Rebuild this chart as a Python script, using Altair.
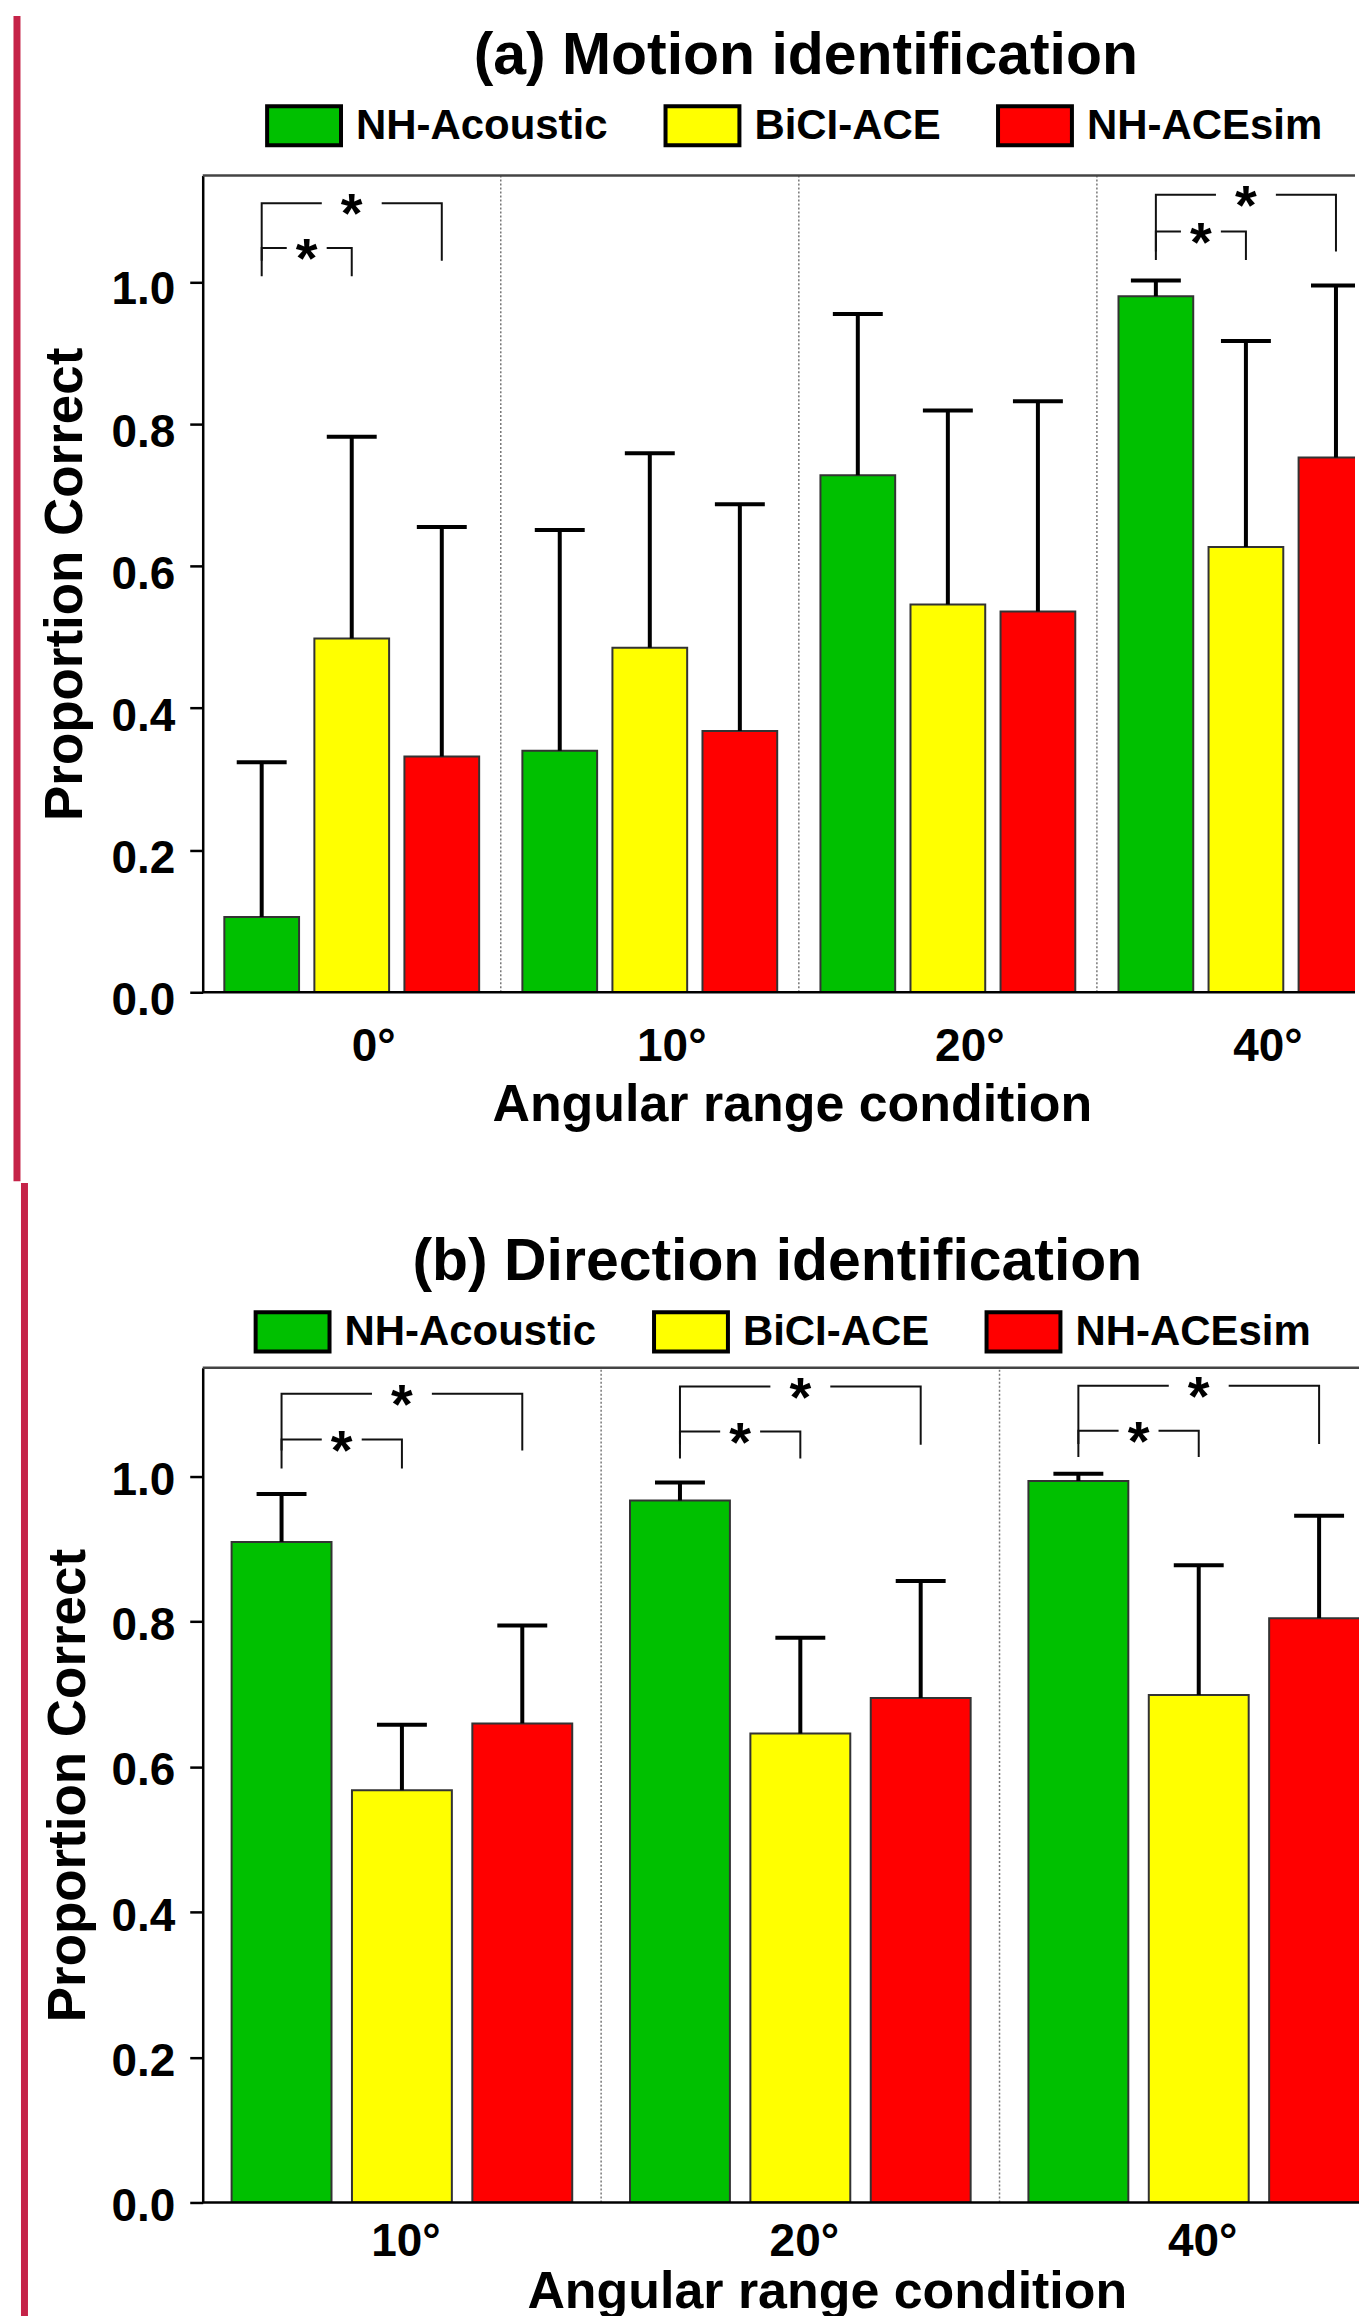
import altair as alt
import pandas as pd

FONT = "Liberation Sans"

series = ["NH-Acoustic", "BiCI-ACE", "NH-ACEsim"]
series_colors = ["#00c000", "#ffff00", "#ff0000"]

# ---------------- Panel (a) Motion identification ----------------
groups_a = ["0°", "10°", "20°", "40°"]
a_nh_mean = [0.106, 0.340, 0.728, 0.980]
a_nh_sd = [0.218, 0.311, 0.227, 0.022]
a_ci_mean = [0.498, 0.485, 0.546, 0.627]
a_ci_sd = [0.284, 0.274, 0.273, 0.290]
a_sim_mean = [0.332, 0.368, 0.536, 0.753]
a_sim_sd = [0.323, 0.319, 0.296, 0.242]

# significance brackets (a)
a_br_group = ["0°", "0°", "40°", "40°"]
a_br_from = ["NH-Acoustic", "NH-Acoustic", "NH-Acoustic", "NH-Acoustic"]
a_br_to = ["NH-ACEsim", "BiCI-ACE", "NH-ACEsim", "BiCI-ACE"]
a_br_top = [1.111, 1.048, 1.123, 1.071]
a_br_bottom = [1.030, 1.008, 1.043, 1.031]

# ---------------- Panel (b) Direction identification ----------------
groups_b = ["10°", "20°", "40°"]
b_nh_mean = [0.910, 0.967, 0.994]
b_nh_sd = [0.066, 0.025, 0.010]
b_ci_mean = [0.568, 0.646, 0.699]
b_ci_sd = [0.090, 0.132, 0.179]
b_sim_mean = [0.660, 0.695, 0.805]
b_sim_sd = [0.135, 0.161, 0.141]

b_br_group = ["10°", "10°", "20°", "20°", "40°", "40°"]
b_br_from = ["NH-Acoustic"] * 6
b_br_to = ["NH-ACEsim", "BiCI-ACE", "NH-ACEsim", "BiCI-ACE", "NH-ACEsim", "BiCI-ACE"]
b_br_top = [1.114, 1.051, 1.124, 1.062, 1.125, 1.063]
b_br_bottom = [1.036, 1.011, 1.044, 1.025, 1.045, 1.027]

y_ticks = [0.0, 0.2, 0.4, 0.6, 0.8, 1.0]
Y_MAX = 1.15
PI = 0.17   # inner padding between bars within a group
PO = 0.24   # outer padding of bars within a group

RECT_PATH = "M-1,-0.53L1,-0.53L1,0.53L-1,0.53Z"
GAP_PATH = "M-1,-0.35L1,-0.35L1,0.35L-1,0.35Z"


def bar_frame(groups, means, sds):
    rows = []
    for s, ml, sl in zip(series, means, sds):
        for g, m, sd in zip(groups, ml, sl):
            rows.append({"group": g, "series": s, "mean": m, "sd": sd})
    return pd.DataFrame(rows)


def bracket_frames(grp, frm, to, top, bottom):
    pts, stars = [], []
    for i, (g, a, b, t, bt) in enumerate(zip(grp, frm, to, top, bottom)):
        for k, (s, lv) in enumerate([(a, bt), (a, t), (b, t), (b, bt)]):
            pts.append({"bid": i, "k": k, "group": g, "series": s, "level": lv})
        stars.append({"group": g, "level": t, "span": series.index(b) - series.index(a),
                      "star": "*"})
    return pd.DataFrame(pts), pd.DataFrame(stars)


def panel(groups, means, sds, br, R, W, H, p):
    df = bar_frame(groups, means, sds)
    brdf, stardf = bracket_frames(*br)
    # band scale spans the full figure width R; the visible plot (W) crops the right side
    xs = alt.Scale(domain=groups, range=[0, R], paddingInner=0, paddingOuter=0)
    xo = alt.Scale(domain=series, paddingInner=PI, paddingOuter=PO)
    ys = alt.Scale(domain=[0, Y_MAX], nice=False, zero=True)

    x_axis = alt.Axis(
        title="Angular range condition", titleFont=FONT, titleFontSize=52,
        titleFontWeight="bold", titleColor="black", titlePadding=p["xtp"], titleX=p["xtx"],
        labelFont=FONT, labelFontSize=46, labelFontWeight="bold", labelColor="black",
        labelAngle=0, labelPadding=p["xlp"], labelOffset=p["xlo"], ticks=False, tickSize=0,
        domain=False,
    )
    y_axis = alt.Axis(
        title="Proportion Correct", titleFont=FONT, titleFontSize=53, titleFontWeight="bold",
        titleColor="black", titlePadding=p["ytp"], values=y_ticks, format=".1f",
        labelFont=FONT, labelFontSize=46, labelFontWeight="bold", labelColor="black",
        labelPadding=15, labelOffset=p["ylo"], tickSize=13, tickWidth=2.5, tickColor="black",
        domainColor="black", domainWidth=2.5, grid=False,
    )
    legend = alt.Legend(
        title=None, orient="none", legendX=p["lx"], legendY=p["ly"], direction="horizontal",
        symbolType=RECT_PATH, symbolSize=74 * 74, symbolStrokeColor="black",
        symbolStrokeWidth=4, symbolOpacity=1, labelFont=FONT, labelFontSize=42,
        labelFontWeight="bold", labelColor="black", labelOffset=13, columnPadding=49,
        padding=0, labelLimit=500,
    )
    X = alt.X("group:N", scale=xs, axis=x_axis)
    XO = alt.XOffset("series:N", scale=xo)

    def Y(field):
        return alt.Y(field, scale=ys, axis=y_axis)

    sep = alt.Chart(pd.DataFrame({"group": groups[1:]})).mark_rule(
        color="#777", strokeWidth=1.5, strokeDash=[2, 2], clip=True
    ).encode(
        x=alt.X("group:N", scale=xs, bandPosition=0, axis=x_axis),
        y=alt.YDatum(0, scale=ys, axis=y_axis),
        y2=alt.Y2Datum(Y_MAX),
    )
    bars = alt.Chart(df).mark_bar(stroke="#333", strokeWidth=2, opacity=1, clip=True).encode(
        x=X, xOffset=XO, y=Y("mean:Q"),
        color=alt.Color("series:N", scale=alt.Scale(domain=series, range=series_colors),
                        legend=legend),
    )
    err = alt.Chart(df).transform_calculate(upper="datum.mean + datum.sd")
    stems = err.mark_rule(color="black", strokeWidth=4, clip=True).encode(
        x=X, xOffset=XO, y=Y("mean:Q"), y2="upper:Q",
    )
    caps = err.mark_tick(color="black", thickness=4, size=50, opacity=1, clip=True).encode(
        x=X, xOffset=XO, y=Y("upper:Q"),
    )
    brackets = alt.Chart(brdf).mark_line(color="#111", strokeWidth=2, clip=True).encode(
        x=X, xOffset=XO, y=Y("level:Q"), detail="bid:N", order="k:Q",
    )
    frame_df = pd.DataFrame({"edge": ["top", "bottom"], "level": [Y_MAX, 0.0]})
    frame = alt.Chart(frame_df).mark_rule(strokeWidth=2.5).encode(
        y=Y("level:Q"),
        color=alt.Color("edge:N", scale=alt.Scale(domain=["top", "bottom"],
                                                  range=["#444", "black"]), legend=None),
    )
    layers = [sep, bars, stems, caps, brackets]
    for span, gap in [(1, 40), (2, 60)]:
        # star centred between the two compared bars, from the band layout
        frac = (PO + (1 - PI) / 2 + span / 2) / (3 - PI + 2 * PO)
        sub = alt.Chart(stardf).transform_filter(f"datum.span == {span}")
        enc = dict(
            x=alt.X("group:N", scale=xs, bandPosition=frac, axis=x_axis),
            y=Y("level:Q"),
        )
        layers.append(sub.mark_point(shape=GAP_PATH, filled=True, fill="white", opacity=1,
                                     strokeWidth=0, size=gap * gap, clip=True).encode(**enc))
        layers.append(sub.mark_text(font=FONT, fontSize=56, fontWeight="bold", color="black",
                                    baseline="alphabetic", align="center", dy=p["sdy"],
                                    clip=True).encode(text="star:N", **enc))
    layers.append(frame)
    # page-border strip at the left edge of the figure
    red = alt.Chart(pd.DataFrame({"k": [0]})).mark_rect(color="#c52348").encode(
        x=alt.value(p["rx"]), x2=alt.value(p["rx"] + 7),
        y=alt.value(p["ry0"]), y2=alt.value(p["ry1"]))
    layers.append(red)

    return alt.layer(*layers).resolve_scale(color="independent").properties(
        width=W, height=H,
        title=alt.TitleParams(text=p["title"], font=FONT, fontSize=59, fontWeight="bold",
                              color="black", anchor="middle", frame="group",
                              offset=p["toff"], dx=p["tdx"]),
    )


pa = panel(
    groups_a, [a_nh_mean, a_ci_mean, a_sim_mean], [a_nh_sd, a_ci_sd, a_sim_sd],
    (a_br_group, a_br_from, a_br_to, a_br_top, a_br_bottom), 1194, 1154, 818,
    dict(title="(a) Motion identification", toff=-70.5, tdx=27, lx=62.5, ly=-89,
         xlp=32, xlo=22, xtp=10, xtx=590, ytp=18, ylo=8, sdy=29,
         rx=-189.5, ry0=-159.7, ry1=1007.3),
)
pb = panel(
    groups_b, [b_nh_mean, b_ci_mean, b_sim_mean], [b_nh_sd, b_ci_sd, b_sim_sd],
    (b_br_group, b_br_from, b_br_to, b_br_top, b_br_bottom), 1197, 1161, 836,
    dict(title="(b) Direction identification", toff=-109, tdx=-5, lx=51, ly=-75,
         xlp=17, xlo=4, xtp=2, xtx=625, ytp=15, ylo=4, sdy=29,
         rx=-182, ry0=-185, ry1=951),
)

chart = alt.vconcat(pa, pb, spacing=0).resolve_scale(
    x="independent", y="independent", color="independent", xOffset="independent"
).resolve_legend(color="independent").properties(
    padding={"left": 5, "top": 5, "right": -40, "bottom": 0}
).configure_view(stroke="transparent")

chart.save("out.html", embed_options={"renderer": "svg", "actions": False})
